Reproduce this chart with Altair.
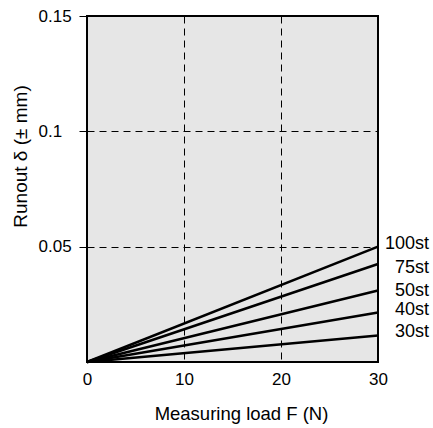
import altair as alt
import pandas as pd

# Runout at the maximum measuring load for each stroke length
strokes = ["100st", "75st", "50st", "40st", "30st"]
runout_at_max = [0.05, 0.0425, 0.031, 0.0215, 0.0115]
load_range = [0, 30]
x_ticks = [0, 10, 20, 30]
y_ticks = [0.05, 0.1, 0.15]

# small vertical nudges (px) so the end labels do not collide
label_nudge = {"100st": -3, "75st": 4, "50st": 1, "40st": -2, "30st": -3}

rows = []
for s, r in zip(strokes, runout_at_max):
    rows.append({"stroke": s, "load": load_range[0], "runout": 0.0})
    rows.append({"stroke": s, "load": load_range[1], "runout": r})
df = pd.DataFrame(rows)
ends = df[df["load"] == load_range[1]]

FONT = "Liberation Sans"

x_enc = alt.X(
    "load:Q",
    scale=alt.Scale(domain=[0, 30], nice=False, zero=False),
    axis=alt.Axis(
        values=x_ticks,
        title="Measuring load F (N)",
        ticks=False,
        domain=False,
        labelFlush=False,
        labelPadding=9,
        labelFontSize=17,
        labelFont=FONT,
        labelColor="black",
        titleFontSize=18.5,
        titleFont=FONT,
        titleFontWeight="normal",
        titleColor="black",
        titleX=154,
        titleY=51,
        titleBaseline="middle",
        grid=True,
        gridColor="black",
        gridDash=[7, 5],
        gridWidth=1,
        gridOpacity=1,
    ),
)
y_enc = alt.Y(
    "runout:Q",
    scale=alt.Scale(domain=[0, 0.15], nice=False),
    axis=alt.Axis(
        values=y_ticks,
        format="~g",
        title="Runout δ (± mm)",
        ticks=True,
        tickSize=8,
        tickColor="black",
        tickWidth=1,
        domain=False,
        labelFlush=False,
        labelAlign="left",
        labelPadding=41,
        labelFontSize=17,
        labelFont=FONT,
        labelColor="black",
        titleFontSize=19,
        titleFont=FONT,
        titleFontWeight="normal",
        titleColor="black",
        titleX=-67,
        titleY=140,
        titleBaseline="middle",
        grid=True,
        gridColor="black",
        gridDash=[7, 5],
        gridWidth=1,
        gridOpacity=1,
    ),
)

lines = alt.Chart(df).mark_line(color="black", strokeWidth=2.5).encode(
    x=x_enc, y=y_enc, detail="stroke:N"
)

label_layers = [
    alt.Chart(ends[ends["stroke"] == s])
    .mark_text(
        align="right",
        baseline="middle",
        dx=51,
        dy=label_nudge[s],
        fontSize=18,
        font=FONT,
        color="black",
    )
    .encode(x="load:Q", y="runout:Q", text="stroke:N")
    for s in strokes
]

chart = (
    alt.layer(lines, *label_layers)
    .properties(
        width=291,
        height=346,
        autosize=alt.AutoSizeParams(type="none"),
        padding={"left": 87, "top": 16, "right": 55, "bottom": 66},
        background="white",
    )
    .configure_view(fill="#e6e6e6", stroke="black", strokeWidth=2)
)

chart.save("out.html", embed_options={"renderer": "svg", "actions": False})
